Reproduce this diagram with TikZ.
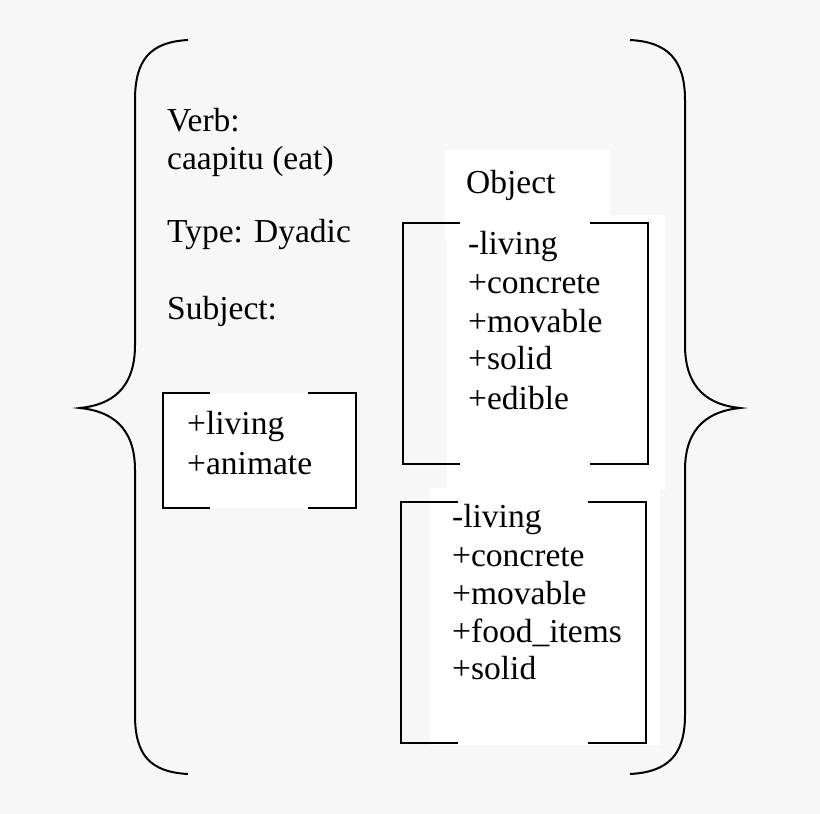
\documentclass[tikz,border=0pt]{standalone}
\usepackage{fontspec}
\setmainfont{Liberation Serif}
\begin{document}
\begin{tikzpicture}[x=1pt,y=-1pt,
  br/.style={line width=2pt,black},
  t/.style={anchor=base west,inner sep=0pt,font=\fontsize{33.5}{33.5}\selectfont},
  wb/.style={fill=white,draw=none}]
\useasboundingbox (0,0) rectangle (820,814);
\fill[black!3] (0,0) rectangle (820,814);
% white backgrounds
\fill[wb] (163,393) rectangle (356,508);
\fill[wb] (445,150) rectangle (610,240);
\fill[wb] (447,215) rectangle (665,490);
\fill[wb] (430,488) rectangle (660,745);
% braces
\draw[br] (188,40) .. controls (150,42) and (135,60) .. (135,100) -- (135,345)
  .. controls (135,390) and (110,405) .. (80,408)
  .. controls (110,411) and (135,426) .. (135,470) -- (135,715)
  .. controls (135,755) and (150,772) .. (188,774);
\draw[br] (630,40) .. controls (668,42) and (685,60) .. (685,100) -- (685,345)
  .. controls (685,390) and (710,405) .. (740,408)
  .. controls (710,411) and (685,426) .. (685,470) -- (685,715)
  .. controls (685,755) and (668,772) .. (630,774);
% brackets
\draw[br] (210,393) -- (163,393) -- (163,508) -- (210,508);
\draw[br] (308,393) -- (356,393) -- (356,508) -- (308,508);
\draw[br] (460,223) -- (403,223) -- (403,464) -- (460,464);
\draw[br] (590,223) -- (648,223) -- (648,464) -- (590,464);
\draw[br] (458,502) -- (401,502) -- (401,743) -- (458,743);
\draw[br] (588,502) -- (646,502) -- (646,743) -- (588,743);
% text
\node[t] (v1) at (167,131) {Verb:};
\node[t] (v2) at (167,169) {caapitu (eat)};
\node[t] (ty) at (167,242) {Type: Dyadic};
\node[t] (su) at (167,319) {Subject:};
\node[t] (ob) at (466,193) {Object};
\node[t] (s1) at (187,434) {+living};
\node[t] (s2) at (187,474) {+animate};
\node[t] (a1) at (468,254) {-living};
\node[t] (a2) at (468,293) {+concrete};
\node[t] (a3) at (468,332) {+movable};
\node[t] (a4) at (468,369) {+solid};
\node[t] (a5) at (468,409) {+edible};
\node[t] (b1) at (452,527) {-living};
\node[t] (b2) at (452,566) {+concrete};
\node[t] (b3) at (452,604) {+movable};
\node[t] (b4) at (452,642) {+food\_items};
\node[t] (b5) at (452,679) {+solid};
\end{tikzpicture}
\end{document}
